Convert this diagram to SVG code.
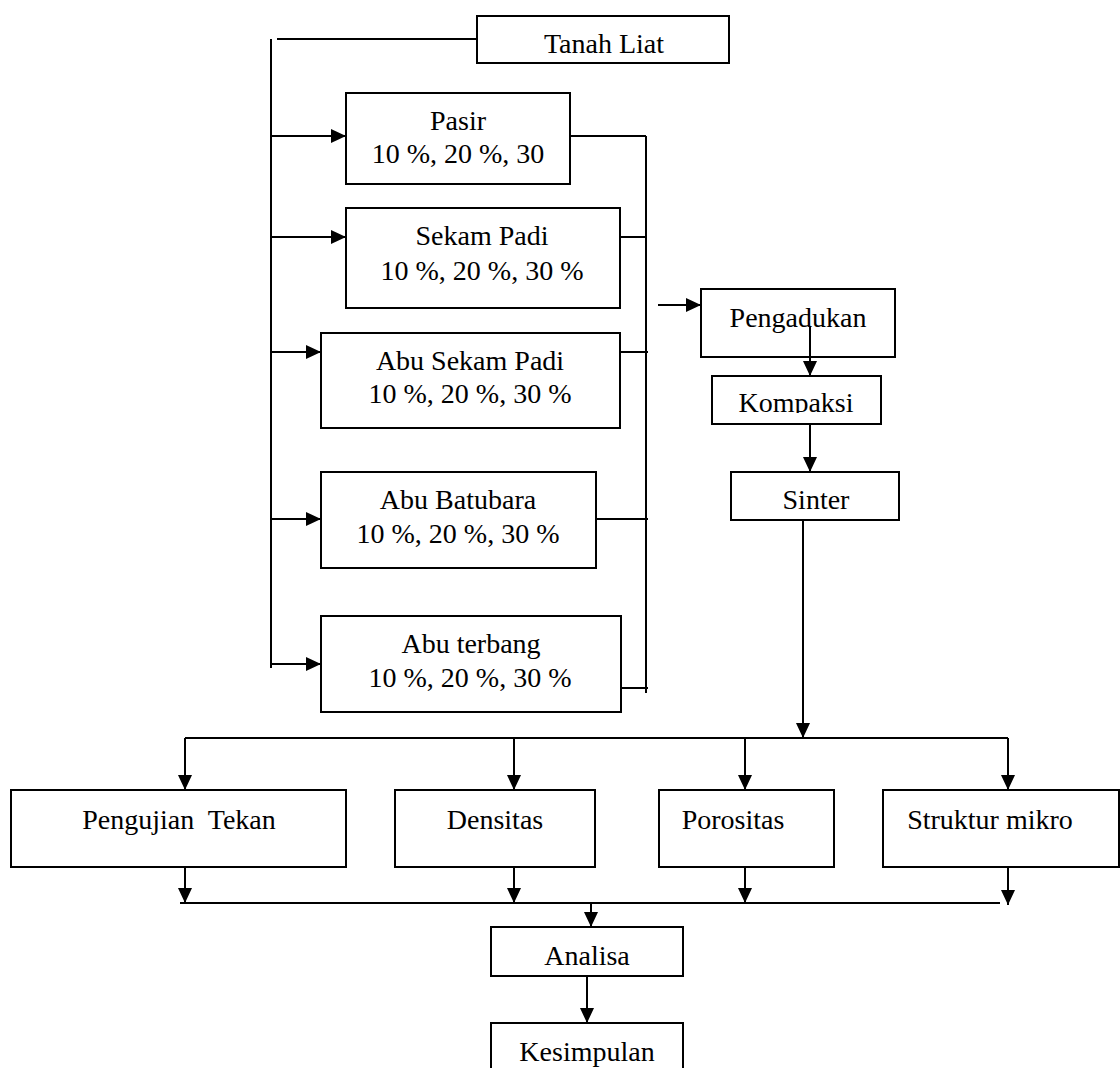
<svg xmlns="http://www.w3.org/2000/svg" width="1120" height="1068" viewBox="0 0 1120 1068">
<style>
.box{fill:#fff;stroke:#000;stroke-width:2}
.c{fill:none;stroke:#000;stroke-width:2}
.a{fill:none;stroke:#000;stroke-width:2;marker-end:url(#ah)}
text{font-family:"Liberation Serif","Times New Roman",serif;font-size:28px;fill:#000;text-anchor:middle;white-space:pre}
</style>
<defs>
<marker id="ah" markerUnits="userSpaceOnUse" markerWidth="16" markerHeight="14" refX="15" refY="7" orient="auto">
<path d="M0,0 L15,7 L0,14 z" fill="#000"/>
</marker>
<clipPath id="kclip"><rect x="712" y="376" width="169" height="37"/></clipPath>
</defs>
<rect width="1120" height="1068" fill="#fff"/>
<g id="connectors">
<path class="c" d="M271,39 V668"/>
<path class="c" d="M277,39 H477"/>
<path class="a" d="M271,136 H346"/>
<path class="a" d="M271,237 H346"/>
<path class="a" d="M271,352 H321"/>
<path class="a" d="M271,519 H321"/>
<path class="a" d="M271,664 H321"/>
<path class="c" d="M646,136 V693"/>
<path class="c" d="M570,136 H646"/>
<path class="c" d="M620,237 H646"/>
<path class="c" d="M620,352 H648"/>
<path class="c" d="M596,519 H648"/>
<path class="c" d="M621,688 H648"/>
<path class="a" d="M658,305 H701"/>
<path class="a" d="M803,520 V738"/>
<path class="c" d="M185,738 H1008"/>
<path class="a" d="M185,738 V790"/>
<path class="a" d="M514,738 V790"/>
<path class="a" d="M745,738 V790"/>
<path class="a" d="M1008,738 V790"/>
<path class="a" d="M185,867 V903"/>
<path class="a" d="M514,867 V903"/>
<path class="a" d="M745,867 V903"/>
<path class="a" d="M1008,867 V905"/>
<path class="c" d="M180,903 H1000"/>
<path class="a" d="M591,903 V927"/>
<path class="a" d="M587,976 V1023"/>
</g>
<g id="tanah-liat"><rect class="box" x="477" y="16" width="252" height="47"/><text x="604" y="53">Tanah Liat</text></g>
<g id="pasir"><rect class="box" x="346" y="93" width="224" height="91"/><text x="458" y="130">Pasir</text><text x="458" y="163">10 %, 20 %, 30</text></g>
<g id="sekam-padi"><rect class="box" x="346" y="208" width="274" height="100"/><text x="482" y="245">Sekam Padi</text><text x="482" y="280">10 %, 20 %, 30 %</text></g>
<g id="abu-sekam-padi"><rect class="box" x="321" y="333" width="299" height="95"/><text x="470" y="370">Abu Sekam Padi</text><text x="470" y="403">10 %, 20 %, 30 %</text></g>
<g id="abu-batubara"><rect class="box" x="321" y="472" width="275" height="96"/><text x="458" y="509">Abu Batubara</text><text x="458" y="543">10 %, 20 %, 30 %</text></g>
<g id="abu-terbang"><rect class="box" x="321" y="616" width="300" height="96"/><text x="471" y="653">Abu terbang</text><text x="470" y="687">10 %, 20 %, 30 %</text></g>
<g id="pengadukan"><rect class="box" x="701" y="289" width="194" height="68"/><text x="798" y="327">Pengadukan</text></g>
<path class="a" d="M810,327 V376"/>
<g id="kompaksi"><rect class="box" x="712" y="376" width="169" height="48"/><text x="796" y="412" clip-path="url(#kclip)">Kompaksi</text></g>
<path class="a" d="M810,424 V472"/>
<g id="sinter"><rect class="box" x="731" y="472" width="168" height="48"/><text x="816" y="509">Sinter</text></g>
<g id="pengujian-tekan"><rect class="box" x="11" y="790" width="335" height="77"/><text x="179" y="829">Pengujian  Tekan</text></g>
<g id="densitas"><rect class="box" x="395" y="790" width="200" height="77"/><text x="495" y="829">Densitas</text></g>
<g id="porositas"><rect class="box" x="659" y="790" width="175" height="77"/><text x="733" y="829">Porositas</text></g>
<g id="struktur-mikro"><rect class="box" x="883" y="790" width="236" height="77"/><text x="990" y="829">Struktur mikro</text></g>
<g id="analisa"><rect class="box" x="491" y="927" width="192" height="49"/><text x="587" y="965">Analisa</text></g>
<g id="kesimpulan"><rect class="box" x="491" y="1023" width="192" height="60"/><text x="587" y="1061">Kesimpulan</text></g>
</svg>
